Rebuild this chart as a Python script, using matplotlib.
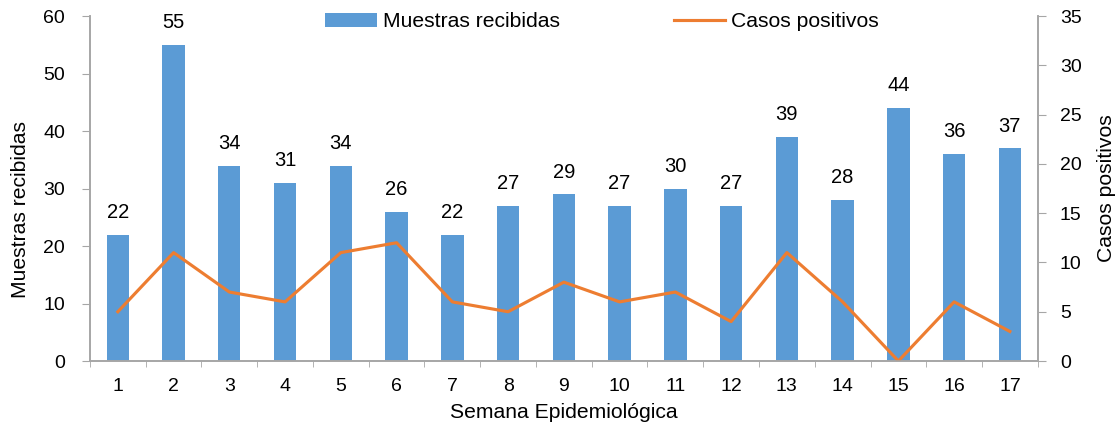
import matplotlib.pyplot as plt
import numpy as np

plt.rcParams['font.family'] = ['Liberation Sans', 'DejaVu Sans']

semanas = [str(i) for i in range(1, 18)]
muestras = [22, 55, 34, 31, 34, 26, 22, 27, 29, 27, 30, 27, 39, 28, 44, 36, 37]
positivos = [5, 11, 7, 6, 11, 12, 6, 5, 8, 6, 7, 4, 11, 6, 0, 6, 3]

azul = '#5B9BD5'
naranja = '#ED7D31'
gris = '#A6A6A6'
fs = 14
fs_titulo = 15.2

fig = plt.figure(figsize=(11.19, 4.28), dpi=100)
ax = fig.add_axes([0.0804, 0.1565, 0.847, 0.806])
ax2 = ax.twinx()

x = np.arange(len(semanas))
bars = ax.bar(x, muestras, width=0.4, color=azul, label='Muestras recibidas', zorder=2)
for xi, v in zip(x, muestras):
    ax.text(xi, v + 2.2, str(v), ha='center', va='bottom', fontsize=14.5)

line, = ax2.plot(x, positivos, color=naranja, lw=2.25, label='Casos positivos')

ax.set_xlim(-0.5, len(semanas) - 0.5)
ax.set_ylim(0, 60)
ax.set_yticks(range(0, 61, 10))
ax2.set_ylim(0, 35)
ax2.set_yticks(range(0, 36, 5))

ax.set_xticks(x)
ax.set_xticklabels(semanas)
ax.set_xticks(np.arange(-0.5, len(semanas)), minor=True)
ax.tick_params(axis='x', which='major', length=0, labelsize=fs, pad=12)
ax.tick_params(axis='x', which='minor', length=4.5, color=gris)
ax.tick_params(axis='y', labelsize=fs, length=6, color=gris, pad=12)
ax2.tick_params(axis='y', labelsize=fs, length=6, color=gris, pad=10)

for a in (ax, ax2):
    a.spines['top'].set_visible(False)
    for s in ('left', 'right', 'bottom'):
        a.spines[s].set_color(gris)
        a.spines[s].set_linewidth(1.2)

ax.set_xlabel('Semana Epidemiológica', fontsize=fs_titulo, labelpad=6)
ax.set_ylabel('Muestras recibidas', fontsize=fs_titulo)
ax.yaxis.set_label_coords(-0.063, 0.44)
ax2.set_ylabel('Casos positivos', fontsize=fs_titulo, labelpad=11)

fig.legend([bars, line], ['Muestras recibidas', 'Casos positivos'],
           loc='center', bbox_to_anchor=(0.538, 0.949), ncol=2,
           frameon=False, fontsize=fs_titulo, handlelength=2.45, handletextpad=0.28,
           columnspacing=5.4, borderpad=0)

fig.savefig('out.png', dpi=100)
